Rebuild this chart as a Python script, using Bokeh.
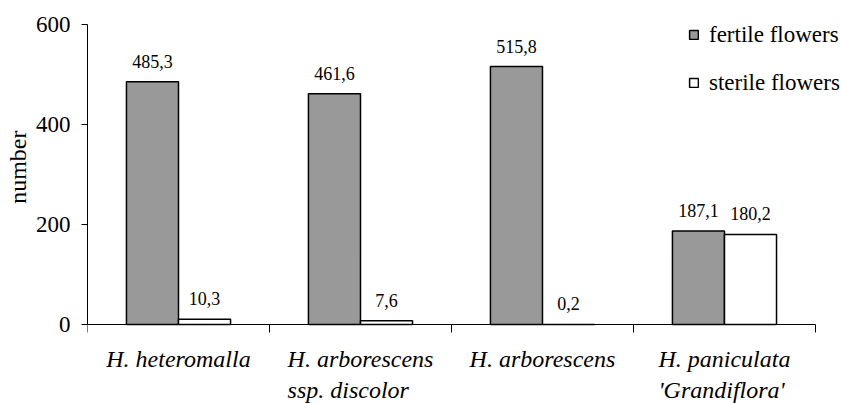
import numpy as np
from bokeh.plotting import figure
from bokeh.models import (Range1d, FixedTicker, ColumnDataSource, LabelSet, Legend, LegendItem, Title)
from bokeh.embed import file_html
from bokeh.resources import INLINE

categories = ["H. heteromalla", "H. arborescens\nssp. discolor", "H. arborescens", "H. paniculata\n'Grandiflora'"]
fertile = [485.3, 461.6, 515.8, 187.1]
sterile = [10.3, 7.6, 0.2, 180.2]
fertile_labels = ["485,3", "461,6", "515,8", "187,1"]
sterile_labels = ["10,3", "7,6", "0,2", "180,2"]
y_ticks = [0, 200, 400, 600]
y_title = "number"
series_names = ["fertile flowers", "sterile flowers"]

FONT = "Liberation Serif"
n = len(categories)
bar_w = 0.286
centers = np.arange(n) + 0.5

src_f = ColumnDataSource(dict(x=centers - bar_w / 2, top=fertile, lab=fertile_labels))
src_s = ColumnDataSource(dict(x=centers + bar_w / 2, top=sterile, lab=sterile_labels))
src_c = ColumnDataSource(dict(x=centers, y=np.zeros(n), lab=categories))

p = figure(width=841, height=403, output_backend="svg", toolbar_location=None,
           x_range=Range1d(0, 4.143), y_range=Range1d(-158, 620),
           min_border_left=87, min_border_right=0, min_border_top=14, min_border_bottom=0)
p.outline_line_color = None
p.xgrid.visible = False
p.ygrid.visible = False

r_f = p.vbar(x="x", top="top", width=bar_w, bottom=0, source=src_f,
             fill_color="#999999", line_color="black", line_width=1.5)
r_s = p.vbar(x="x", top="top", width=bar_w, bottom=0, source=src_s,
             fill_color="white", line_color="black", line_width=1.5)

for src in (src_f, src_s):
    p.add_layout(LabelSet(x="x", y="top", text="lab", source=src, text_align="center",
                          text_baseline="alphabetic", y_offset=14,
                          text_font=FONT, text_font_size="18px", text_color="black"))

# category labels under the axis
p.add_layout(LabelSet(x="x", y="y", text="lab", source=src_c, text_align="center",
                      text_baseline="top", y_offset=-21, text_line_height=1.2,
                      text_font=FONT, text_font_style="italic", text_font_size="24px",
                      text_color="black"))

# x axis at y = 0
xa = p.xaxis[0]
xa.fixed_location = 0
xa.bounds = (0, n)
xa.ticker = FixedTicker(ticks=[], minor_ticks=list(range(n + 1)))
xa.major_tick_out = 0
xa.major_tick_in = 0
xa.minor_tick_out = 0
xa.minor_tick_in = -8
xa.major_label_standoff = 0
xa.minor_tick_line_color = "black"
xa.axis_line_color = "black"

# y axis
ya = p.yaxis[0]
ya.bounds = (0, 600)
ya.ticker = FixedTicker(ticks=y_ticks)
ya.minor_tick_line_color = None
ya.major_tick_out = 6
ya.major_tick_in = 0
ya.axis_line_color = "black"
ya.major_label_text_font = FONT
ya.major_label_text_font_size = "23px"
ya.major_label_text_color = "black"
ya.major_label_standoff = 11

# y axis title, placed beside the 0..600 span of the axis
p.add_layout(Title(text=y_title, align="right", offset=116, standoff=4,
                   text_font=FONT, text_font_style="normal", text_font_size="24px",
                   text_color="black"), "left")

legend = Legend(items=[LegendItem(label=series_names[0], renderers=[r_f]),
                       LegendItem(label=series_names[1], renderers=[r_s])],
                location=(601, 307), orientation="vertical",
                glyph_width=11, glyph_height=11, label_height=27, spacing=21,
                padding=0, margin=0, label_standoff=10,
                label_text_font=FONT, label_text_font_size="23px", label_text_color="black",
                background_fill_alpha=0, border_line_color=None)
p.add_layout(legend)

open("out.html", "w").write(file_html(p, INLINE))
